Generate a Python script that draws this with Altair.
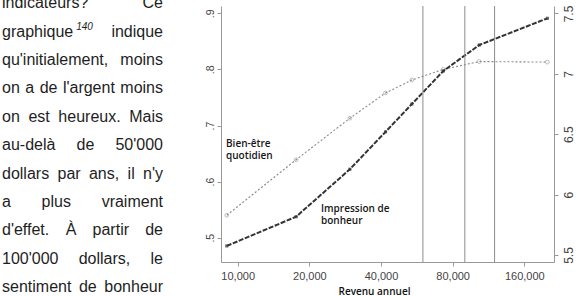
import altair as alt
import pandas as pd

# ---------------- data ----------------
revenu = [9000, 17600, 29600, 41800, 53900, 73100, 103500, 200000]
bien_etre = [0.540, 0.639, 0.713, 0.758, 0.781, 0.800, 0.814, 0.813]
impression = [5.575, 5.817, 6.210, 6.520, 6.750, 7.024, 7.239, 7.460]
seuils = [60000, 90000, 120000]
x_ticks = [10000, 20000, 40000, 80000, 160000]
left_ticks = [0.5, 0.6, 0.7, 0.8, 0.9]
right_ticks = [5.5, 6.0, 6.5, 7.0, 7.5]

paragraph_lines = [
    ["indicateurs?", "Ce"],
    ["graphique", "indique"],
    ["qu'initialement,", "moins"],
    ["on", "a", "de", "l'argent", "moins"],
    ["on", "est", "heureux.", "Mais"],
    ["au-delà", "de", "50'000"],
    ["dollars", "par", "ans,", "il", "n'y"],
    ["a", "plus", "vraiment"],
    ["d'effet.", "À", "partir", "de"],
    ["100'000", "dollars,", "le"],
    ["sentiment", "de", "bonheur"],
]
superscript = "140"
label_bien = ["Bien-être", "quotidien"]
label_impr = ["Impression de", "bonheur"]
x_title = "Revenu annuel"

# ---------------- layout ----------------
PL, PT = 221, 6          # plot origin in page pixels
W, H = 333, 256          # plot area
P_LEFT, P_RIGHT = 2, 163 # paragraph column
P_SIZE = 16
BASE0, STEP = 8.1, 28.4

ARIAL = {
    'a': 556, 'b': 556, 'c': 500, 'd': 556, 'e': 556, 'f': 278, 'g': 556, 'h': 556,
    'i': 222, 'j': 222, 'k': 500, 'l': 222, 'm': 833, 'n': 556, 'o': 556, 'p': 556,
    'q': 556, 'r': 333, 's': 500, 't': 278, 'u': 556, 'v': 500, 'w': 722, 'x': 500,
    'y': 500, 'z': 500, "'": 191, '?': 556, '.': 278, ',': 278, '-': 333, 'à': 556,
    'À': 667, 'C': 722, 'M': 833, ' ': 278,
}


def tw(s, size):
    return sum(ARIAL.get(c, 556) for c in s) * size / 1000.0


rows_left, rows_right = [], []
for i, words in enumerate(paragraph_lines):
    base = BASE0 + i * STEP
    widths = [tw(w, P_SIZE) for w in words]
    if i == 1:
        widths[0] += tw(superscript, 10) + 3
    n = len(words)
    gap = (P_RIGHT - P_LEFT - sum(widths)) / (n - 1)
    x = P_LEFT
    for j, w in enumerate(words):
        if j == n - 1:
            rows_right.append({"txt": w, "px": P_RIGHT - PL, "py": base - PT})
        else:
            rows_left.append({"txt": w, "px": x - PL, "py": base - PT})
        x += widths[j] + gap

sup_df = pd.DataFrame([{"txt": superscript,
                        "px": P_LEFT + tw("graphique", P_SIZE) + 3 - PL,
                        "py": BASE0 + STEP - 6.5 - PT}])

ann_df = pd.DataFrame([
    {"txt": label_bien[0], "px": 226 - PL, "py": 144 - PT},
    {"txt": label_bien[1], "px": 226 - PL, "py": 156 - PT},
    {"txt": label_impr[0], "px": 321 - PL, "py": 209 - PT},
    {"txt": label_impr[1], "px": 321 - PL, "py": 220.5 - PT},
])

df = pd.DataFrame({"revenu": revenu, "bien": bien_etre, "impr": impression})
seuil_df = pd.DataFrame({"revenu": seuils})

xscale = alt.Scale(type="log", domain=[8510, 213200], nice=False, zero=False)
yl_scale = alt.Scale(domain=[0.4567, 0.913], nice=False, zero=False)
yr_scale = alt.Scale(domain=[5.442, 7.562], nice=False, zero=False)

x_axis = alt.Axis(values=x_ticks, format=",d", title=x_title, grid=False,
                  tickSize=4, tickColor="#999", domainColor="#999",
                  labelFont="Liberation Sans", labelFontSize=11, labelColor="#444",
                  labelPadding=4, labelBaseline="top",
                  titleFont="Open Sans", titleFontSize=10, titleFontWeight=600,
                  titleColor="#111", titleX=153, titleY=29, titleBaseline="middle")

yl_axis = alt.Axis(orient="left", values=left_ticks, title=None, grid=False,
                   labelExpr="'.' + format(round(datum.value * 10), 'd')",
                   tickSize=4, tickColor="#999", domainColor="#999",
                   labelFont="Liberation Sans", labelFontSize=10.5, labelColor="#444",
                   labelAngle=270, labelAlign="center", labelBaseline="middle",
                   labelPadding=7)

yr_axis = alt.Axis(orient="right", values=right_ticks, format="~g", title=None, grid=False,
                   tickSize=4, tickColor="#999", domainColor="#999",
                   labelFont="Liberation Sans", labelFontSize=12, labelColor="#444",
                   labelAngle=270, labelAlign="center", labelBaseline="middle",
                   labelPadding=10)

X = alt.X("revenu:Q", scale=xscale, axis=x_axis)

rules = alt.Chart(seuil_df).mark_rule(color="#8c8c8c", strokeWidth=1).encode(x=X)

bien_line = alt.Chart(df).mark_line(color="#8a8a8a", strokeWidth=1.1,
                                    strokeDash=[2, 2]).encode(
    x=X, y=alt.Y("bien:Q", scale=yl_scale, axis=yl_axis),
)
bien_pts = alt.Chart(df).mark_point(shape="circle", size=14, filled=False,
                                    color="#8a8a8a", strokeWidth=0.8).encode(
    x=X, y=alt.Y("bien:Q", scale=yl_scale, axis=yl_axis),
)
bien = alt.layer(bien_line, bien_pts)

impr_line = alt.Chart(df).mark_line(color="#333333", strokeWidth=2,
                                    strokeDash=[5, 1.5]).encode(
    x=X, y=alt.Y("impr:Q", scale=yr_scale, axis=yr_axis),
)
impr_pts = alt.Chart(df).mark_point(shape="square", size=10, filled=True,
                                    color="#333333").encode(
    x=X, y=alt.Y("impr:Q", scale=yr_scale, axis=yr_axis),
)
impr = alt.layer(impr_line, impr_pts)


def text_layer(data, align, font, size, color, style="normal", weight="normal",
               baseline="alphabetic"):
    return alt.Chart(pd.DataFrame(data)).mark_text(
        align=align, baseline=baseline, font=font, fontSize=size,
        color=color, fontStyle=style, fontWeight=weight,
    ).encode(
        x=alt.X("px:Q", scale=None, axis=None),
        y=alt.Y("py:Q", scale=None, axis=None),
        text="txt:N",
    )


para_left = text_layer(rows_left, "left", "Liberation Sans", P_SIZE, "#1e1e1e")
para_right = text_layer(rows_right, "right", "Liberation Sans", P_SIZE, "#1e1e1e")
sup = text_layer(sup_df, "left", "Liberation Sans", 10, "#1e1e1e", style="italic")
ann = text_layer(ann_df, "left", "Open Sans", 10, "#151515", weight=600,
                 baseline="middle")

chart = alt.layer(bien, impr, rules, para_left, para_right, sup, ann).resolve_scale(
    y="independent"
).properties(
    width=W, height=H,
    autosize=alt.AutoSizeParams(type="none"),
    padding={"left": PL, "top": PT, "right": 579 - PL - W, "bottom": 296 - PT - H},
    background="white",
).configure_view(stroke=None)

chart.save("out.html", embed_options={"renderer": "svg", "actions": False})
